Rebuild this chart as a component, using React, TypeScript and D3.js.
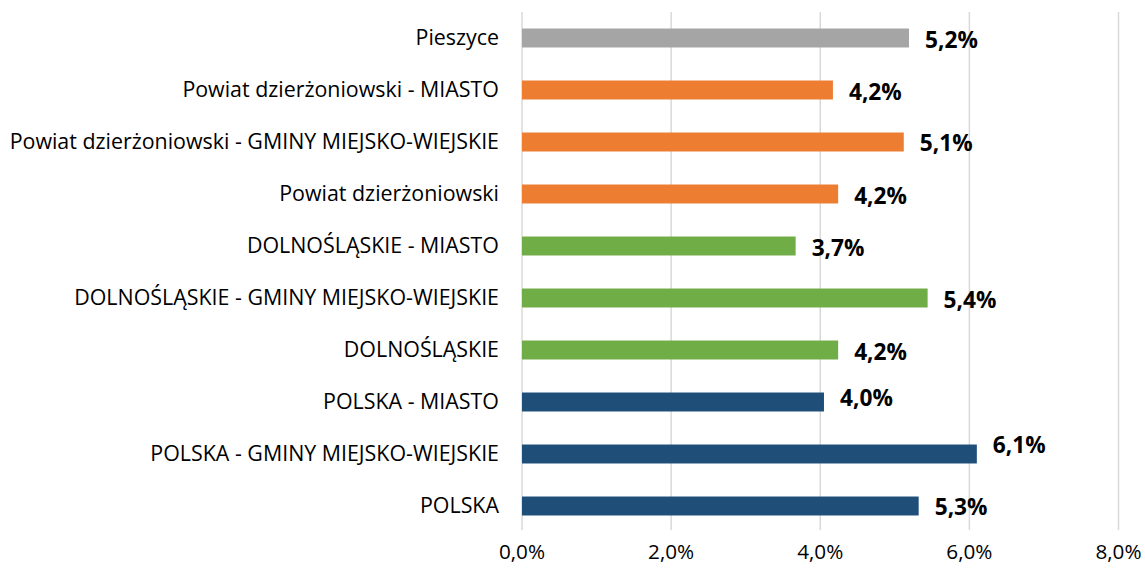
import React from 'react';
import * as d3 from 'd3';

// categories top to bottom, values in percent
const categories = [
  'Pieszyce',
  'Powiat dzierżoniowski - MIASTO',
  'Powiat dzierżoniowski - GMINY MIEJSKO-WIEJSKIE',
  'Powiat dzierżoniowski',
  'DOLNOŚLĄSKIE - MIASTO',
  'DOLNOŚLĄSKIE - GMINY MIEJSKO-WIEJSKIE',
  'DOLNOŚLĄSKIE',
  'POLSKA - MIASTO',
  'POLSKA - GMINY MIEJSKO-WIEJSKIE',
  'POLSKA',
];
const values = [5.19, 4.17, 5.12, 4.24, 3.67, 5.44, 4.24, 4.05, 6.1, 5.32];
const groups = ['gmina', 'powiat', 'powiat', 'powiat', 'woj', 'woj', 'woj', 'kraj', 'kraj', 'kraj'];
const xTicks = [0, 2, 4, 6, 8];

const groupColors: Record<string, string> = {
  gmina: '#a5a5a5',
  powiat: '#ed7d31',
  woj: '#70ad47',
  kraj: '#1f4e79',
};

// small vertical nudges for the value labels (Excel's placement)
const labelDy = [2, 2, 1, 2, 2, 2, 2, -4, -9, 1];

const fmt = (v: number, digits: number) => v.toFixed(digits).replace('.', ',') + '%';

export default function App() {
  const width = 1145;
  const height = 571;
  const left = 522;
  const right = 1118.5;
  const top = 12;
  const bottom = 532;
  const font = "'Open Sans', 'Noto Sans', sans-serif";

  const x = d3.scaleLinear().domain([0, 8]).range([left, right]);
  const y = d3
    .scaleBand<string>()
    .domain(categories)
    .range([top, bottom])
    .paddingInner(0.635)
    .paddingOuter(0.3175);

  const grid = xTicks.map((t) => (
    <line key={'g' + t} x1={x(t)} x2={x(t)} y1={top} y2={530} stroke="#d9d9d9" strokeWidth={1.5} />
  ));

  const tickLabels = xTicks.map((t) => (
    <text key={'t' + t} x={x(t)} y={559} textAnchor="middle" fontSize={20.7} fill="#000" fontFamily={font}>
      {fmt(t, 1)}
    </text>
  ));

  const bars = categories.map((c, i) => (
    <rect
      key={'b' + i}
      x={x(0)}
      y={y(c)}
      width={x(values[i]) - x(0)}
      height={y.bandwidth()}
      fill={groupColors[groups[i]]}
    />
  ));

  const catLabels = categories.map((c, i) => (
    <text
      key={'c' + i}
      x={left - 23}
      y={(y(c) as number) + y.bandwidth() / 2}
      dy="0.35em"
      textAnchor="end"
      fontSize={21.4}
      fill="#000"
      fontFamily={font}
    >
      {c}
    </text>
  ));

  const valLabels = categories.map((c, i) => (
    <text
      key={'v' + i}
      x={x(values[i]) + 16}
      y={(y(c) as number) + y.bandwidth() / 2 + labelDy[i]}
      dy="0.36em"
      fontSize={22.7}
      fontWeight="bold"
      fill="#000"
      fontFamily={font}
    >
      {fmt(values[i], 1)}
    </text>
  ));

  return (
    <svg width={width} height={height} style={{ position: 'absolute', left: 0, top: 0, background: '#fff' }}>
      {grid}
      {bars}
      {catLabels}
      {valLabels}
      {tickLabels}
    </svg>
  );
}
